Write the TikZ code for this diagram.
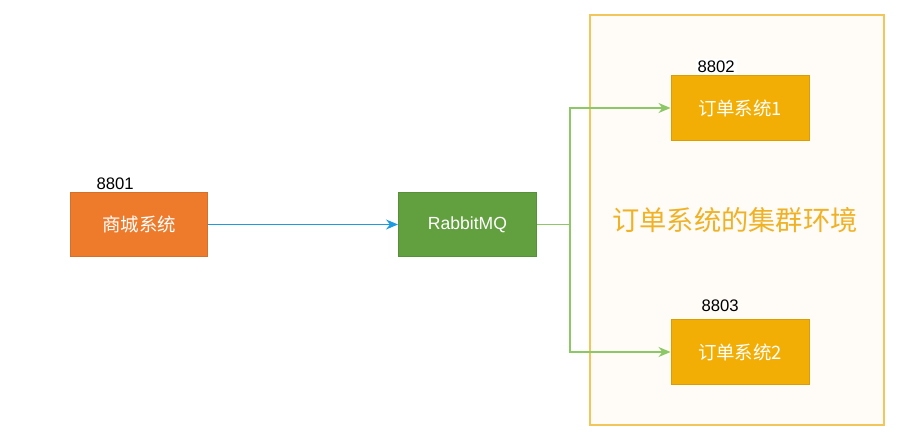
\documentclass[tikz,border=0pt]{standalone}
\usepackage{fontspec}
\setmainfont{Liberation Sans}
\newfontfamily\cjk{Noto Sans CJK SC}
\usepackage{tikz}
\usetikzlibrary{arrows.meta}
\definecolor{mallorange}{HTML}{EE7B2C}
\definecolor{mqgreen}{HTML}{629F3F}
\definecolor{ordergold}{HTML}{F2AE05}
\definecolor{framegold}{HTML}{F2C65A}
\definecolor{linegreen}{HTML}{8CC865}
\definecolor{lineblue}{HTML}{1C9BE0}
\definecolor{textgold}{HTML}{F0B225}
\tikzset{
    sysbox/.style={draw=#1!90!black,line width=0.2mm,fill=#1,minimum width=2.76cm,minimum height=1.3cm,inner sep=0pt,text=white,font=\cjk\fontsize{10.5}{12}\selectfont},
    portlbl/.style={anchor=south west,inner sep=1pt,font=\fontsize{9.5}{11}\selectfont},
}

\begin{document}
\begin{tikzpicture}[x=0.02cm,y=-0.02cm]
    \useasboundingbox (0,0) rectangle (911,445);
    % cluster frame
    \node[draw=framegold,line width=0.35mm,fill=orange!3,minimum width=5.88cm,minimum height=8.2cm,inner sep=0pt] (cluster) at (737,220) {};
    \node[font=\cjk\fontsize{15.5}{18}\selectfont,text=textgold] (clustertxt) at (735,220) {订单系统的集群环境};

    \node[sysbox=mallorange] (mall) at (139,224.5) {商城系统}; % boxes
    \node[sysbox=mqgreen,font=\fontsize{10}{12}\selectfont] (mq) at (467.5,224.5) {RabbitMQ};
    \node[sysbox=ordergold] (order1) at (740,108) {订单系统1};
    \node[sysbox=ordergold] (order2) at (740,352) {订单系统2};

    \node[portlbl] (p1) at (mall.north west) [xshift=0.5cm,yshift=0pt] {8801}; % port labels
    \node[portlbl,fill=white] (p2) at (order1.north west) [xshift=0.5cm,yshift=0pt] {8802};
    \node[portlbl] (p3) at (order2.north west) [xshift=0.58cm,yshift=3pt] {8803};

    \coordinate (split) at (570,224.5);
    \draw[lineblue,line width=0.3mm,-{Stealth[length=2.4mm,width=2mm]}] (mall) -- (mq); % connectors
    \draw[linegreen,line width=0.3mm] (mq) -- (split);
    \draw[linegreen,line width=0.3mm,-{Stealth[length=2.4mm,width=2mm]}] (split) |- (order1);
    \draw[linegreen,line width=0.3mm,-{Stealth[length=2.4mm,width=2mm]}] (split) |- (order2);
\end{tikzpicture}
\end{document}
